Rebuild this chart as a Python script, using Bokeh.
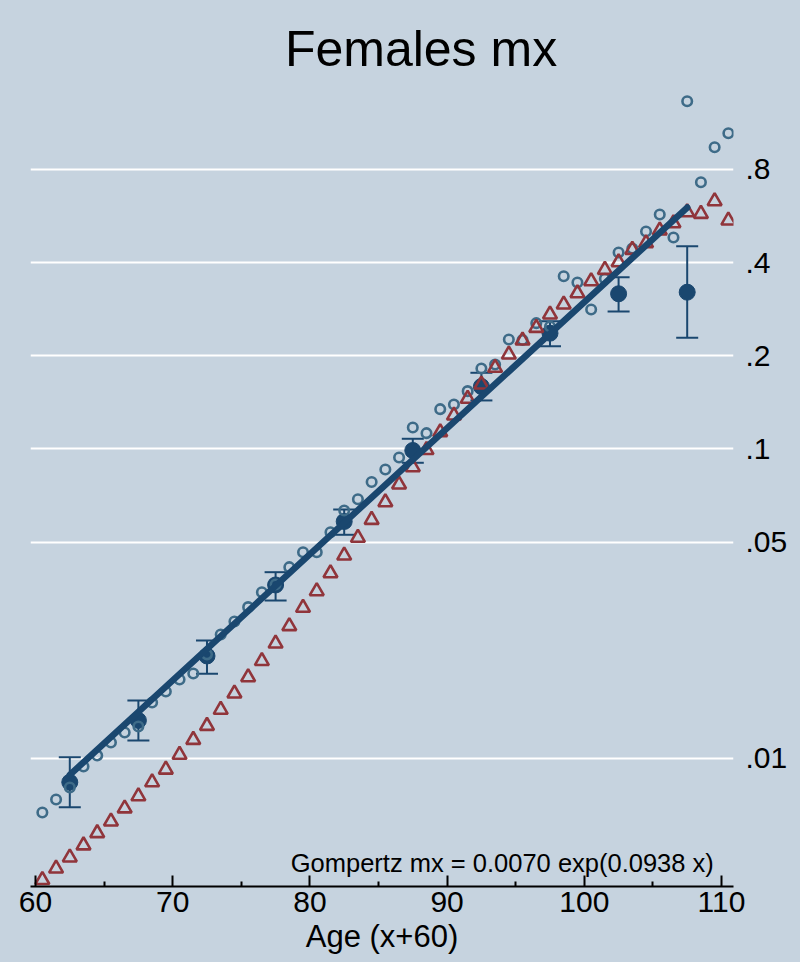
from bokeh.plotting import figure
from bokeh.models import (ColumnDataSource, FixedTicker, Label, Range1d, Whisker,
                          TeeHead, CustomJSTickFormatter)
from bokeh.embed import file_html
from bokeh.resources import INLINE
import numpy as np

# Single-year ages (x + 60)
ages = [60.5, 61.5, 62.5, 63.5, 64.5, 65.5, 66.5, 67.5, 68.5, 69.5,
        70.5, 71.5, 72.5, 73.5, 74.5, 75.5, 76.5, 77.5, 78.5, 79.5,
        80.5, 81.5, 82.5, 83.5, 84.5, 85.5, 86.5, 87.5, 88.5, 89.5,
        90.5, 91.5, 92.5, 93.5, 94.5, 95.5, 96.5, 97.5, 98.5, 99.5,
        100.5, 101.5, 102.5, 103.5, 104.5, 105.5, 106.5, 107.5, 108.5, 109.5,
        110.5]

# Observed single-year death rates (hollow circles)
observed_mx = [0.00669, 0.00737, 0.00806, 0.00942, 0.01023, 0.01126, 0.01213, 0.01269, 0.01517, 0.01646,
               0.0180, 0.01882, 0.0217, 0.02516, 0.02772, 0.03083, 0.03445, 0.0365, 0.04151, 0.0464,
               0.0464, 0.05385, 0.06328, 0.06882, 0.07824, 0.08587, 0.09387, 0.1174, 0.1125, 0.1345,
               0.1392, 0.1538, 0.182, 0.1875, 0.2259, 0.225, 0.255, 0.2488, 0.3617, 0.3451,
               0.2823, 0.3548, 0.4314, 0.4445, 0.5043, 0.5726, 0.4824, 1.329, 0.7278, 0.9443,
               1.048]

# Standard schedule (triangles)
standard_mx = [0.00405, 0.00441, 0.00479, 0.00524, 0.00574, 0.00626, 0.0069, 0.00755, 0.00838, 0.00921,
               0.01028, 0.01149, 0.01275, 0.01437, 0.01622, 0.01831, 0.02065, 0.02352, 0.02677, 0.03069,
               0.03472, 0.03969, 0.04528, 0.05166, 0.05905, 0.06731, 0.0768, 0.08737, 0.09926, 0.1133,
               0.1283, 0.1453, 0.1616, 0.183, 0.202, 0.2242, 0.2464, 0.2721, 0.2931, 0.3187,
               0.3485, 0.3793, 0.4014, 0.4402, 0.4624, 0.5082, 0.5365, 0.5824, 0.5754, 0.6321,
               0.5474]

# Five-year groups with confidence limits (filled circles)
group_ages = [62.5, 67.5, 72.5, 77.5, 82.5, 87.5, 92.5, 97.5, 102.5, 107.5]
group_mx = [0.00838, 0.01327, 0.02144, 0.03636, 0.05832, 0.0989, 0.1592, 0.2367, 0.3173, 0.3211]
group_lo = [0.00696, 0.01143, 0.01878, 0.03239, 0.05282, 0.09025, 0.1435, 0.2148, 0.2782, 0.2288]
group_hi = [0.0101, 0.01539, 0.02406, 0.03999, 0.06375, 0.1079, 0.1763, 0.2588, 0.3591, 0.4521]

# Gompertz fit: mx = a * exp(b * x), x = age - 60
gompertz_a = 0.0070
gompertz_b = 0.0938

x_ticks = [60, 70, 80, 90, 100, 110]
x_minor = [65, 75, 85, 95, 105]
y_ticks = [0.01, 0.05, 0.1, 0.2, 0.4, 0.8]

BG = "#C6D3DF"
NAVY = "#1A476F"
STEEL = "#3E6B88"
MAROON = "#90353B"
FONT = "Liberation Sans"

# The page colour comes from the plot element itself, so the frame and the
# margins share one seamless background.
p = figure(width=800, height=962,
           x_range=Range1d(59.636, 110.875),
           y_range=Range1d(0.003858, 2.8128),
           y_axis_type="log", y_axis_location="right",
           output_backend="svg", toolbar_location=None,
           min_border_left=30, min_border_right=67,
           min_border_top=0, min_border_bottom=76,
           background_fill_color=BG, border_fill_color=None,
           outline_line_color=None,
           styles={"background-color": BG})

# Axes
xa = p.xaxis[0]
xa.ticker = FixedTicker(ticks=x_ticks, minor_ticks=x_minor)
xa.major_tick_in = 11
xa.major_tick_out = 0
xa.minor_tick_in = 5
xa.minor_tick_out = 0
xa.axis_line_width = 2
xa.axis_line_color = "black"
xa.major_tick_line_width = 2
xa.minor_tick_line_width = 2
xa.major_label_text_font = FONT
xa.major_label_text_font_size = "30px"
xa.major_label_text_color = "black"
xa.major_label_standoff = 5
xa.axis_label = "Age (x+60)"
xa.axis_label_text_font = FONT
xa.axis_label_text_font_size = "31px"
xa.axis_label_text_font_style = "normal"
xa.axis_label_text_color = "black"
xa.axis_label_standoff = 4

ya = p.yaxis[0]
ya.ticker = FixedTicker(ticks=y_ticks)
ya.formatter = CustomJSTickFormatter(code="return String(tick).replace(/^0\\./, '.');")
ya.axis_line_color = None
ya.major_tick_line_color = None
ya.minor_tick_line_color = None
ya.major_label_text_font = FONT
ya.major_label_text_font_size = "30px"
ya.major_label_text_color = "black"
ya.major_label_standoff = 6

p.xgrid.visible = False
p.ygrid.grid_line_color = "white"
p.ygrid.grid_line_width = 2.2

# Confidence intervals of the five-year rates
grp = ColumnDataSource(dict(age=group_ages, mx=group_mx, lo=group_lo, hi=group_hi))
p.add_layout(Whisker(source=grp, base="age", lower="lo", upper="hi", dimension="height",
                     line_color=NAVY, line_width=2,
                     lower_head=TeeHead(size=22, line_color=NAVY, line_width=2),
                     upper_head=TeeHead(size=22, line_color=NAVY, line_width=2)))
p.scatter("age", "mx", source=grp, marker="circle", size=16,
          fill_color=NAVY, line_color=NAVY)

# Single-year rates
single = ColumnDataSource(dict(age=ages, obs=observed_mx, std=standard_mx))
p.scatter("age", "obs", source=single, marker="circle", size=9.5,
          fill_color=None, line_color=STEEL, line_width=2.6)
p.scatter("age", "std", source=single, marker="triangle", size=14,
          fill_color=None, line_color=MAROON, line_width=2.6)

# Gompertz curve over the grouped ages
fit_x = np.array([group_ages[0], group_ages[-1]])
fit_y = gompertz_a * np.exp(gompertz_b * (fit_x - 60))
p.line(fit_x, fit_y, line_color=NAVY, line_width=6.5, line_cap="round")

p.add_layout(Label(x=109.44, y=0.004603,
                   text=f"Gompertz mx = {gompertz_a:.4f} exp({gompertz_b:.4f} x)",
                   text_align="right", text_baseline="alphabetic",
                   text_font=FONT, text_font_size="25.5px", text_color="black"))

p.add_layout(Label(x=88.10, y=1.968, text="Females mx",
                   text_align="center", text_baseline="alphabetic",
                   text_font=FONT, text_font_size="50px", text_color="black"))

open("out.html", "w").write(file_html(p, INLINE))
